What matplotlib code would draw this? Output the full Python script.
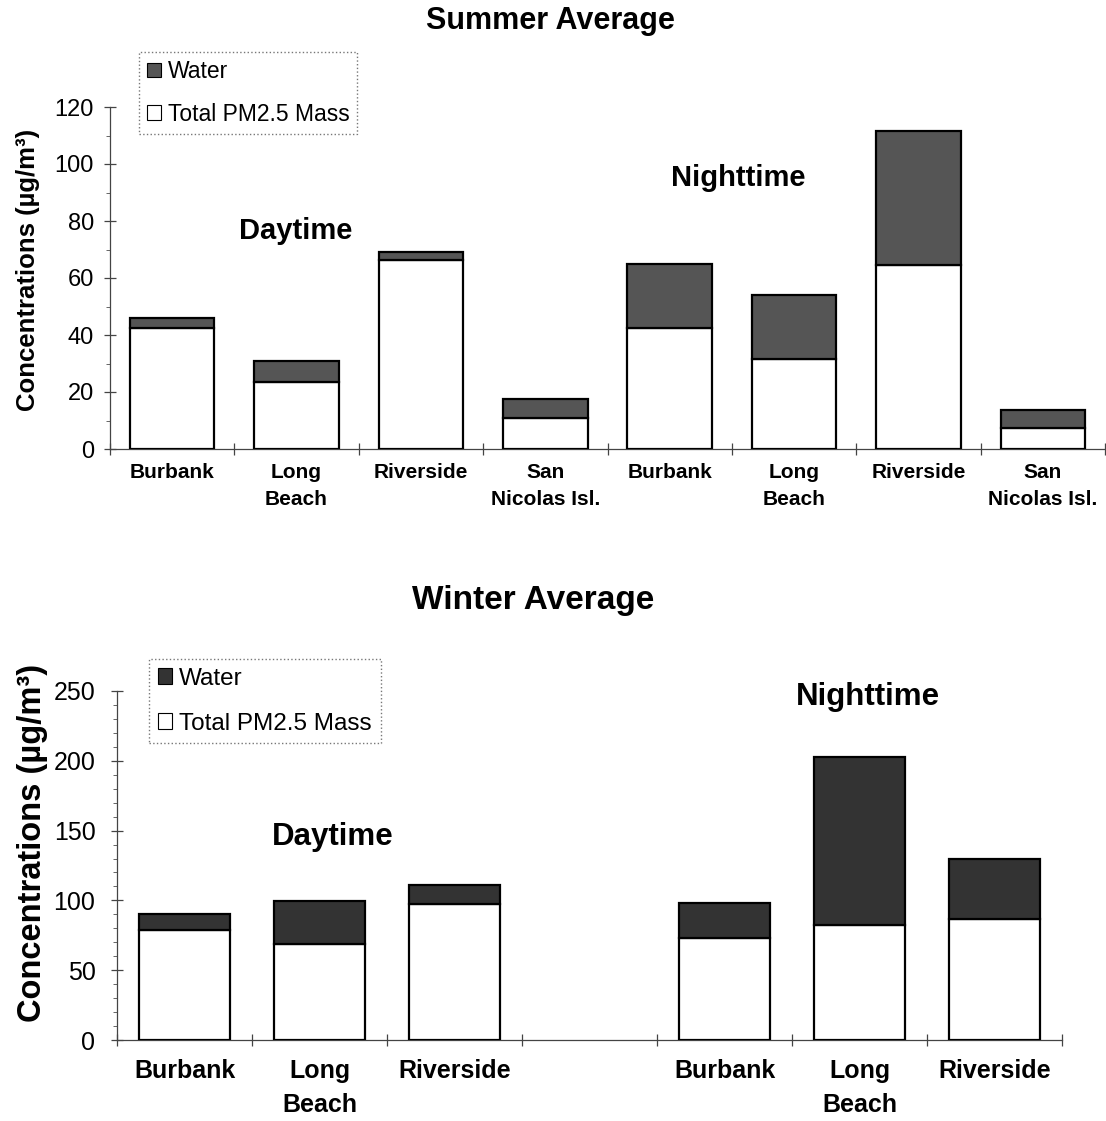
"""
Summer / winter average PM2.5 mass and water, stacked bars.
"""

import numpy as np
import matplotlib
matplotlib.use('Agg')
import matplotlib.pyplot as plt
from matplotlib.patches import Patch
from matplotlib.ticker import MultipleLocator, FixedLocator

plt.rcParams['font.family'] = ['Liberation Sans', 'DejaVu Sans']

# ---- data (ug/m3) ----
summer_sites = ['Burbank', 'Long\nBeach', 'Riverside', 'San\nNicolas Isl.']
summer_day_mass = [42.4, 23.6, 66.4, 10.8]
summer_day_water = [3.6, 7.2, 2.8, 6.6]
summer_night_mass = [42.5, 31.7, 64.6, 7.3]
summer_night_water = [22.3, 22.2, 47.1, 6.5]

winter_sites = ['Burbank', 'Long\nBeach', 'Riverside']
winter_day_mass = [78.6, 68.6, 97.1]
winter_day_water = [11.6, 31.2, 13.6]
winter_night_mass = [73.2, 82.7, 87.0]
winter_night_water = [25.0, 120.3, 42.6]

W, H = 1106, 1121
fig = plt.figure(figsize=(W / 100, H / 100), dpi=100)


def px_rect(x0, y_top, x1, y_bot):
    """Axes rectangle from pixel edges."""
    return [x0 / W, 1 - y_bot / H, (x1 - x0) / W, (y_bot - y_top) / H]


def style_axes(ax, ymax, major, n, tick_fs, label_fs, ypad, xpad, lsp):
    for side in ('top', 'right'):
        ax.spines[side].set_visible(False)
    for side in ('left', 'bottom'):
        ax.spines[side].set_color('#444444')
        ax.spines[side].set_linewidth(0.9)
    ax.set_ylim(0, ymax)
    ax.set_xlim(0, n)
    ax.yaxis.set_major_locator(MultipleLocator(major))
    ax.yaxis.set_minor_locator(MultipleLocator(10))
    ax.tick_params(axis='y', which='major', direction='inout', length=9,
                   width=0.9, color='#444444', labelsize=tick_fs, pad=ypad)
    ax.tick_params(axis='y', which='minor', direction='out', length=3,
                   width=0.7, color='#666666')
    # category labels at centres, tick marks at boundaries
    ax.xaxis.set_major_locator(FixedLocator(np.arange(n) + 0.5))
    ax.xaxis.set_minor_locator(FixedLocator(np.arange(n + 1)))
    ax.tick_params(axis='x', which='major', length=0, labelsize=label_fs,
                   pad=xpad)
    ax.tick_params(axis='x', which='minor', direction='inout', length=9,
                   width=0.9, color='#444444')
    for lab in ax.get_xticklabels():
        lab.set_fontweight('bold')
        lab.set_linespacing(lsp)


def stacked(ax, x, mass, water, water_color, width):
    b1 = ax.bar(x, mass, width=width, color='white', edgecolor='black',
                linewidth=1.6, zorder=3)
    b2 = ax.bar(x, water, bottom=mass, width=width, color=water_color,
                edgecolor='black', linewidth=1.6, zorder=3)
    return b1, b2


def add_legend(ax, water_color, fs, x, y, spacing):
    handles = [Patch(facecolor=water_color, edgecolor='black', linewidth=0.8),
               Patch(facecolor='white', edgecolor='black', linewidth=0.8)]
    leg = ax.legend(handles, ['Water', 'Total PM2.5 Mass'],
                    loc='upper left', bbox_to_anchor=(x / W, 1 - y / H),
                    bbox_transform=fig.transFigure, fontsize=fs,
                    handlelength=0.6, handleheight=0.6, handletextpad=0.3,
                    labelspacing=spacing, borderpad=0.35, borderaxespad=0,
                    fancybox=False, framealpha=1)
    frame = leg.get_frame()
    frame.set_edgecolor('#777777')
    frame.set_linestyle(':')
    frame.set_linewidth(1.0)
    return leg


# ---------------- Summer ----------------
ax1 = fig.add_axes(px_rect(110, 107, 1105, 449))
n_s = len(summer_sites)
xs_day = np.arange(n_s) + 0.5
xs_night = np.arange(n_s) + n_s + 0.5
summer_water_col = '#555555'
stacked(ax1, xs_day, summer_day_mass, summer_day_water, summer_water_col, 0.68)
stacked(ax1, xs_night, summer_night_mass, summer_night_water,
        summer_water_col, 0.68)
ax1.set_xticks(np.concatenate([xs_day, xs_night]))
ax1.set_xticklabels(summer_sites + summer_sites)
style_axes(ax1, 120, 20, 2 * n_s, 17, 15, 7, 10, 1.55)
add_legend(ax1, summer_water_col, 16.5, 139, 52, 0.85)

fig.text(550 / W, 1 - 21 / H, 'Summer Average', ha='center', va='center',
         fontsize=22, fontweight='bold')
fig.text(296 / W, 1 - 231 / H, 'Daytime', ha='center', va='center',
         fontsize=21, fontweight='bold')
fig.text(738 / W, 1 - 178 / H, 'Nighttime', ha='center', va='center',
         fontsize=21, fontweight='bold')
fig.text(28 / W, 1 - 270 / H, 'Concentrations (µg/m³)', ha='center',
         va='center', rotation=90, fontsize=18.5, fontweight='bold')

# ---------------- Winter ----------------
ax2 = fig.add_axes(px_rect(117, 691, 1062, 1040))
n_w = len(winter_sites)
gap = 1  # one empty slot between day and night groups
xw_day = np.arange(n_w) + 0.5
xw_night = np.arange(n_w) + n_w + gap + 0.5
winter_water_col = '#333333'
stacked(ax2, xw_day, winter_day_mass, winter_day_water, winter_water_col, 0.67)
stacked(ax2, xw_night, winter_night_mass, winter_night_water,
        winter_water_col, 0.67)
ax2.set_xticks(np.concatenate([xw_day, xw_night]))
ax2.set_xticklabels(winter_sites + winter_sites)
style_axes(ax2, 250, 50, 2 * n_w + gap, 18, 18, 11, 14, 1.5)
add_legend(ax2, winter_water_col, 17.5, 149, 659, 0.95)

fig.text(533 / W, 1 - 600 / H, 'Winter Average', ha='center', va='center',
         fontsize=24, fontweight='bold')
fig.text(333 / W, 1 - 837 / H, 'Daytime', ha='center', va='center',
         fontsize=22.5, fontweight='bold')
fig.text(868 / W, 1 - 697 / H, 'Nighttime', ha='center', va='center',
         fontsize=22.5, fontweight='bold')
fig.text(33 / W, 1 - 843 / H, 'Concentrations (µg/m³)', ha='center',
         va='center', rotation=90, fontsize=23.5, fontweight='bold')

fig.savefig('out.png', dpi=100)
